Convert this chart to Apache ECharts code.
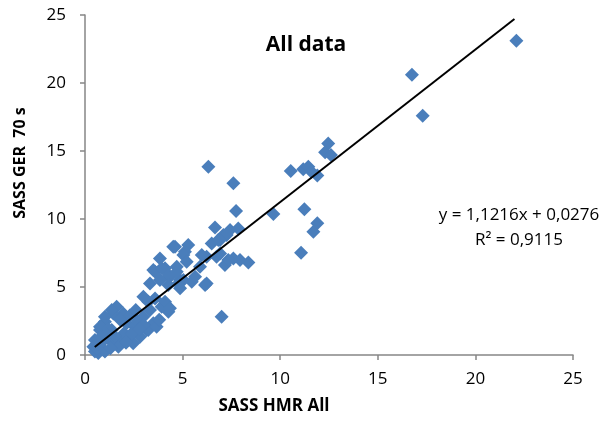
<!DOCTYPE html>
<html>
<head>
<meta charset="utf-8">
<script src="https://cdn.jsdelivr.net/npm/echarts@6/dist/echarts.min.js"></script>
<style>html,body{margin:0;padding:0;background:#fff}#c{width:615px;height:421px}</style>
</head>
<body>
<div id="c"></div>
<script>
// SASS HMR All (x) vs SASS GER 70 s (y)
var xValues = [22.1,16.75,17.3,12.46,12.3,12.6,10.54,11.18,11.44,11.6,11.9,9.65,11.24,11.9,11.7,11.07,
6.32,7.6,7.74,6.66,7.43,7.09,7.85,7.26,6.92,8.37,7.6,7.17,6.74,6.23,7.0,
4.61,5.29,5.12,5.04,3.84,4.52,3.5,4.1,4.7,4.35,5.21,5.98,6.49,6.83,6.92,7.34,7.94,5.89,5.64,6.23,5.04,4.78,
3.59,3.93,4.27,3.84,4.87,4.7,5.47,6.15,4.87,4.27,3.33,
2.99,3.59,4.1,4.27,3.93,3.33,2.99,3.24,4.1,4.35,
1.62,1.45,1.02,0.77,0.51,0.43,0.68,
1.96,2.13,2.56,3.16,3.5,2.82,2.22,1.79,1.45,1.11,0.94,2.47,1.37,
1.37,1.02,0.77,1.71,1.02,0.51,3.24,3.67,
1.8,2.3,2.6,2.0,2.7,3.0,1.2,0.9,1.5,2.4,3.8,2.8,0.6,1.3,0.7,1.1,0.8,2.1];
var yValues = [23.1,20.6,17.6,15.56,14.9,14.7,13.53,13.65,13.85,13.48,13.2,10.37,10.71,9.68,9.07,7.52,
13.85,12.62,10.59,9.38,9.19,8.82,9.3,8.82,8.46,6.81,7.1,6.62,7.23,7.23,2.82,
7.96,8.09,7.6,7.35,7.1,7.96,6.25,6.37,6.49,5.76,6.86,7.35,8.2,8.46,7.47,6.99,6.99,6.49,5.76,5.26,5.51,5.26,
6.13,6.37,5.88,5.51,5.51,6.13,5.39,5.15,4.9,5.15,5.26,
4.29,4.16,3.79,3.18,3.55,3.31,2.82,3.92,3.92,3.43,
3.55,3.06,2.45,1.84,1.1,0.61,0.15,
3.06,2.33,2.08,1.84,2.33,1.35,1.1,1.1,0.86,1.35,0.37,0.86,1.84,
3.31,2.82,2.08,0.61,0.25,0.25,1.84,2.08,
2.6,2.9,3.3,1.6,2.5,2.2,1.9,1.0,1.4,1.6,2.6,1.9,0.5,0.5,0.8,1.5,1.3,0.9];
// trendline endpoints (y = 1,1216x + 0,0276)
var trendX = [0.5, 22.0];
var trendY = [0.59, 24.7];
var xTicks = [0,5,10,15,20,25];
var yTicks = [0,5,10,15,20,25];
var titleText = 'All data';
var eqText = 'y = 1,1216x + 0,0276';
var r2Text = 'R² = 0,9115';
var xTitle = 'SASS HMR All';
var yTitle = 'SASS GER  70 s';

var pts = xValues.map(function(x,i){return [x,yValues[i]];});
var trend = trendX.map(function(x,i){return [x,trendY[i]];});
var font = '"Open Sans", sans-serif';
var axisCol = '#868686';

var chart = echarts.init(document.getElementById('c'), null, {renderer:'canvas'});
chart.setOption({
  animation:false,
  grid:{left:85,right:42,top:15,bottom:66,containLabel:false},
  xAxis:{type:'value',min:0,max:25,interval:5,
    axisLine:{show:true,onZero:false,lineStyle:{color:axisCol,width:1.5}},
    axisTick:{show:true,length:5,inside:false,lineStyle:{color:axisCol,width:1.5}},
    splitLine:{show:false},
    axisLabel:{color:'#000',fontSize:17,fontFamily:font,margin:16}},
  yAxis:{type:'value',min:0,max:25,interval:5,
    axisLine:{show:true,onZero:false,lineStyle:{color:axisCol,width:1.5}},
    axisTick:{show:true,length:5,inside:false,lineStyle:{color:axisCol,width:1.5}},
    splitLine:{show:false},
    axisLabel:{color:'#000',fontSize:17,fontFamily:font,margin:19}},
  series:[
    {type:'scatter',data:pts,symbol:'diamond',symbolSize:14,
     itemStyle:{color:'#4A7EBB',opacity:1},z:2},
    {type:'line',data:trend,symbol:'none',lineStyle:{color:'#000',width:2},z:3,silent:true}
  ],
  graphic:[
    {type:'text',style:{text:titleText,x:306,y:45,align:'center',verticalAlign:'middle',
      font:'bold 21px '+font,fill:'#000'},z:10},
    {type:'text',style:{text:eqText,x:519,y:215,align:'center',verticalAlign:'middle',font:'17px '+font,fill:'#000'},z:10},
    {type:'text',style:{text:r2Text,x:519,y:240,align:'center',verticalAlign:'middle',font:'17px '+font,fill:'#000'},z:10},
    {type:'text',style:{text:xTitle,x:274,y:406,align:'center',verticalAlign:'middle',font:'bold 17px '+font,fill:'#000'},z:10},
    {type:'text',x:20,y:163,rotation:Math.PI/2,style:{text:yTitle,x:0,y:0,align:'center',verticalAlign:'middle',font:'bold 16px '+font,fill:'#000'},z:10}
  ]
});
</script>
</body>
</html>
